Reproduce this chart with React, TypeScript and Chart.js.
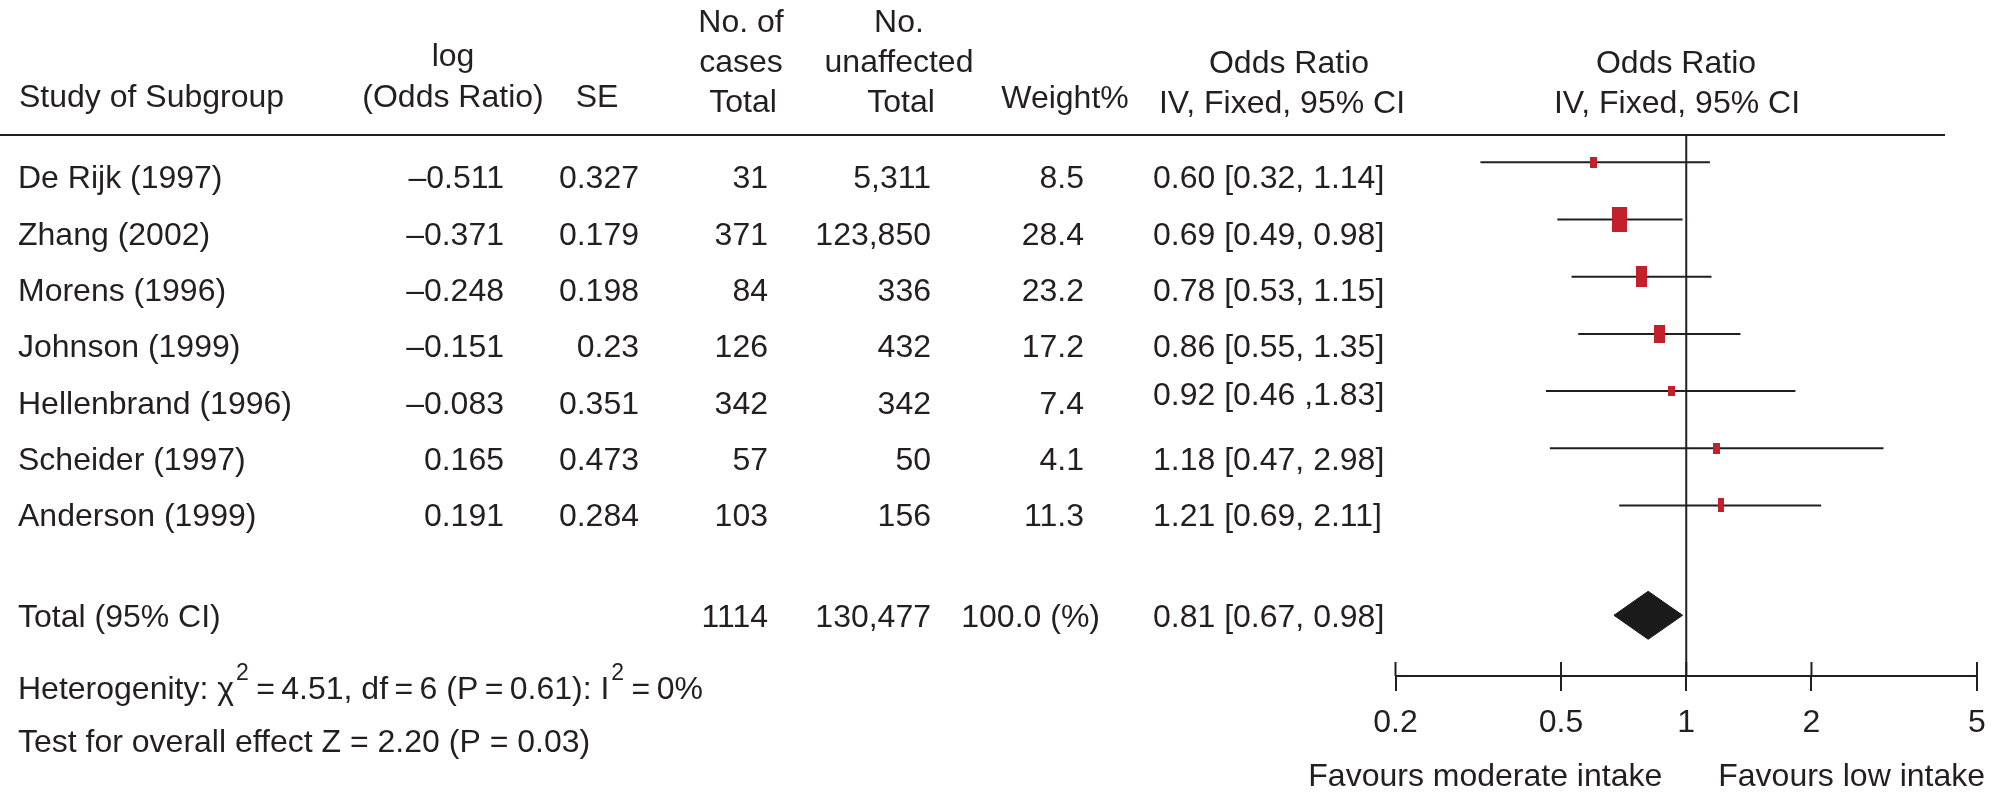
import React, { useEffect, useRef } from 'react';
import { Chart, registerables } from 'chart.js';

Chart.register(...registerables);

// ---------------- data ----------------
const STUDIES = [
  'De Rijk (1997)',
  'Zhang (2002)',
  'Morens (1996)',
  'Johnson (1999)',
  'Hellenbrand (1996)',
  'Scheider (1997)',
  'Anderson (1999)',
];
const LOG_OR = [-0.511, -0.371, -0.248, -0.151, -0.083, 0.165, 0.191];
const SE = [0.327, 0.179, 0.198, 0.23, 0.351, 0.473, 0.284];
const CASES = [31, 371, 84, 126, 342, 57, 103];
const UNAFFECTED = [5311, 123850, 336, 432, 342, 50, 156];
const WEIGHT = [8.5, 28.4, 23.2, 17.2, 7.4, 4.1, 11.3];
const ODDS_RATIO = [0.6, 0.69, 0.78, 0.86, 0.92, 1.18, 1.21];
const CI_LOW = [0.32, 0.49, 0.53, 0.55, 0.46, 0.47, 0.69];
const CI_HIGH = [1.14, 0.98, 1.15, 1.35, 1.83, 2.98, 2.11];
const OR_LABELS = [
  '0.60 [0.32, 1.14]',
  '0.69 [0.49, 0.98]',
  '0.78 [0.53, 1.15]',
  '0.86 [0.55, 1.35]',
  '0.92 [0.46 ,1.83]',
  '1.18 [0.47, 2.98]',
  '1.21 [0.69, 2.11]',
];

const TOTAL_LABEL = 'Total (95% CI)';
const TOTAL_CASES = 1114;
const TOTAL_UNAFFECTED = 130477;
const TOTAL_WEIGHT_LABEL = '100.0 (%)';
const TOTAL_OR = 0.81;
const TOTAL_LOW = 0.67;
const TOTAL_HIGH = 0.98;
const TOTAL_OR_LABEL = '0.81 [0.67, 0.98]';

const X_TICKS = [0.2, 0.5, 1, 2, 5];
const X_TICK_LABELS = ['0.2', '0.5', '1', '2', '5'];
const FAVOURS_LEFT = 'Favours moderate intake';
const FAVOURS_RIGHT = 'Favours low intake';
const TEST_LINE = 'Test for overall effect Z = 2.20 (P = 0.03)';

// ---------------- layout / style ----------------
const W = 1992;
const H = 796;
const FONT = '"Liberation Sans", Arial, Helvetica, sans-serif';
const INK = '#231f20';
const RED = '#c4202c';
const DIAMOND = '#1a1a1a';
const MARKER_W = [7, 15, 11, 11, 7, 7, 6];
const MARKER_H = [11, 25, 21, 18, 10, 11, 14];
const ROW_POS = [0, 1, 2, 3, 4, 5, 6];
const TOTAL_POS = 7.92;
const DIAMOND_HALF = 0.42;
const Y_MIN = -0.477;
const Y_MAX = 8.981;
const PLOT_LEFT = 1395.5;
const PLOT_RIGHT_PAD = 15;
const PLOT_TOP = 135;
const AXIS_Y = 676;
const TS = '\u2009';

const fmtLog = (v: number) => (v < 0 ? '\u2013' + Math.abs(v).toFixed(3) : v.toFixed(3));
const fmtInt = (v: number) => v.toLocaleString('en-US');

const tablePlugin = {
  id: 'forestTable',
  afterDraw(chart: any) {
    const ctx = chart.ctx as CanvasRenderingContext2D;
    const xs = chart.scales.x;
    ctx.save();
    ctx.strokeStyle = INK;
    ctx.lineWidth = 2;
    // header rule
    ctx.beginPath();
    ctx.moveTo(0, 135);
    ctx.lineTo(1945, 135);
    ctx.stroke();
    // upper halves of the axis ticks
    X_TICKS.forEach((v) => {
      const px = xs.getPixelForValue(v);
      ctx.beginPath();
      ctx.moveTo(px, AXIS_Y - 14);
      ctx.lineTo(px, AXIS_Y);
      ctx.stroke();
    });

    ctx.fillStyle = INK;
    ctx.textBaseline = 'alphabetic';
    ctx.font = `32px ${FONT}`;
    const txt = (s: string, x: number, y: number, align: CanvasTextAlign) => {
      ctx.textAlign = align;
      ctx.fillText(s, x, y);
    };

    // header
    txt('Study of Subgroup', 19, 107, 'left');
    txt('log', 453, 66, 'center');
    txt('(Odds Ratio)', 453, 107, 'center');
    txt('SE', 597, 107, 'center');
    txt('No. of', 741, 32, 'center');
    txt('cases', 741, 72, 'center');
    txt('Total', 743, 112, 'center');
    txt('No.', 899, 32, 'center');
    txt('unaffected', 899, 72, 'center');
    txt('Total', 901, 112, 'center');
    txt('Weight%', 1065, 108, 'center');
    txt('Odds Ratio', 1289, 73, 'center');
    txt('IV, Fixed, 95% CI', 1282, 113, 'center');
    txt('Odds Ratio', 1676, 73, 'center');
    txt('IV, Fixed, 95% CI', 1677, 113, 'center');

    // study rows
    STUDIES.forEach((name, i) => {
      const y = 188.3 + 56.35 * i;
      txt(name, 18, y, 'left');
      txt(fmtLog(LOG_OR[i]), 504, y, 'right');
      txt(String(SE[i]), 639, y, 'right');
      txt(fmtInt(CASES[i]), 768, y, 'right');
      txt(fmtInt(UNAFFECTED[i]), 931, y, 'right');
      txt(WEIGHT[i].toFixed(1), 1084, y, 'right');
      txt(OR_LABELS[i], 1153, i === 4 ? y - 9 : y, 'left');
    });

    // total row
    const ty = 627.3;
    txt(TOTAL_LABEL, 18, ty, 'left');
    txt(String(TOTAL_CASES), 768, ty, 'right');
    txt(fmtInt(TOTAL_UNAFFECTED), 931, ty, 'right');
    txt(TOTAL_WEIGHT_LABEL, 1100, ty, 'right');
    txt(TOTAL_OR_LABEL, 1153, ty, 'left');

    // heterogeneity line with superscripts
    const segs: [string, boolean][] = [
      ['Heterogenity: \u03c7', false],
      ['2', true],
      [`${TS}=${TS}4.51, df${TS}=${TS}6 (P${TS}=${TS}0.61): I`, false],
      ['2', true],
      [`${TS}=${TS}0%`, false],
    ];
    let hx = 18;
    const hy = 699;
    ctx.textAlign = 'left';
    segs.forEach(([s, sup]) => {
      if (sup) {
        ctx.font = `23px ${FONT}`;
        hx += 2;
        ctx.fillText(s, hx, hy - 19);
        hx += ctx.measureText(s).width + 1;
        ctx.font = `32px ${FONT}`;
      } else {
        ctx.fillText(s, hx, hy);
        hx += ctx.measureText(s).width;
      }
    });

    txt(TEST_LINE, 18, 751.7, 'left');

    // favours labels
    const one = xs.getPixelForValue(1);
    txt(FAVOURS_LEFT, one - 24, 786, 'right');
    txt(FAVOURS_RIGHT, one + 32, 786, 'left');

    ctx.restore();
  },
};

export default function App() {
  const ref = useRef<HTMLCanvasElement | null>(null);

  useEffect(() => {
    if (!ref.current) return;
    const markers = MARKER_W.map((w, i) => {
      const c = document.createElement('canvas');
      c.width = w;
      c.height = MARKER_H[i];
      const g = c.getContext('2d')!;
      g.fillStyle = RED;
      g.fillRect(0, 0, w, MARKER_H[i]);
      return c;
    });

    const ciSets = ODDS_RATIO.map((_, i) => ({
      label: 'ci' + i,
      data: [
        { x: CI_LOW[i], y: ROW_POS[i] },
        { x: CI_HIGH[i], y: ROW_POS[i] },
      ],
      showLine: true,
      borderColor: INK,
      borderWidth: 2,
      pointRadius: 0,
      fill: false,
      order: 2,
    }));

    const chart = new Chart(ref.current, {
      type: 'scatter',
      data: {
        datasets: [
          {
            label: 'estimates',
            data: ODDS_RATIO.map((v, i) => ({ x: v, y: ROW_POS[i] })),
            pointStyle: markers as any,
            pointRadius: 6,
            backgroundColor: RED,
            borderWidth: 0,
            showLine: false,
            order: 0,
          } as any,
          {
            label: 'total',
            data: [
              { x: TOTAL_LOW, y: TOTAL_POS },
              { x: TOTAL_OR, y: TOTAL_POS - DIAMOND_HALF },
              { x: TOTAL_HIGH, y: TOTAL_POS },
              { x: TOTAL_OR, y: TOTAL_POS + DIAMOND_HALF },
              { x: TOTAL_LOW, y: TOTAL_POS },
            ],
            showLine: true,
            fill: 'shape',
            backgroundColor: DIAMOND,
            borderColor: DIAMOND,
            borderWidth: 1,
            pointRadius: 0,
            tension: 0,
            order: 1,
          } as any,
          ...ciSets,
          {
            label: 'no effect',
            data: [
              { x: 1, y: Y_MIN },
              { x: 1, y: Y_MAX },
            ],
            showLine: true,
            borderColor: INK,
            borderWidth: 2,
            pointRadius: 0,
            fill: false,
            order: 3,
          },
        ],
      },
      options: {
        animation: false,
        responsive: false,
        events: [],
        layout: { padding: { left: PLOT_LEFT, right: PLOT_RIGHT_PAD, top: PLOT_TOP, bottom: 0 } },
        plugins: {
          legend: { display: false },
          tooltip: { enabled: false },
          title: { display: false },
        },
        scales: {
          x: {
            type: 'logarithmic',
            min: 0.2,
            max: 5,
            position: 'bottom',
            afterBuildTicks: (s: any) => {
              s.ticks = X_TICKS.map((v) => ({ value: v }));
            },
            afterFit: (s: any) => {
              s.height = H - AXIS_Y;
            },
            ticks: {
              callback: (_v: any, idx: number) => X_TICK_LABELS[idx] ?? '',
              font: { family: FONT, size: 32, lineHeight: 2 },
              color: INK,
              padding: 0,
              maxRotation: 0,
              minRotation: 0,
              autoSkip: false,
            },
            grid: {
              display: true,
              drawOnChartArea: false,
              drawTicks: true,
              tickLength: 15,
              color: INK,
              lineWidth: 2,
            },
            border: { display: true, color: INK, width: 2 },
          } as any,
          y: {
            type: 'linear',
            reverse: true,
            min: Y_MIN,
            max: Y_MAX,
            display: false,
          },
        },
      },
      plugins: [tablePlugin],
    });
    return () => chart.destroy();
  }, []);

  return (
    <div style={{ position: 'absolute', left: 0, top: 0, width: W, height: H, background: '#fff' }}>
      <canvas ref={ref} width={W} height={H} style={{ display: 'block', width: W, height: H }} />
    </div>
  );
}
